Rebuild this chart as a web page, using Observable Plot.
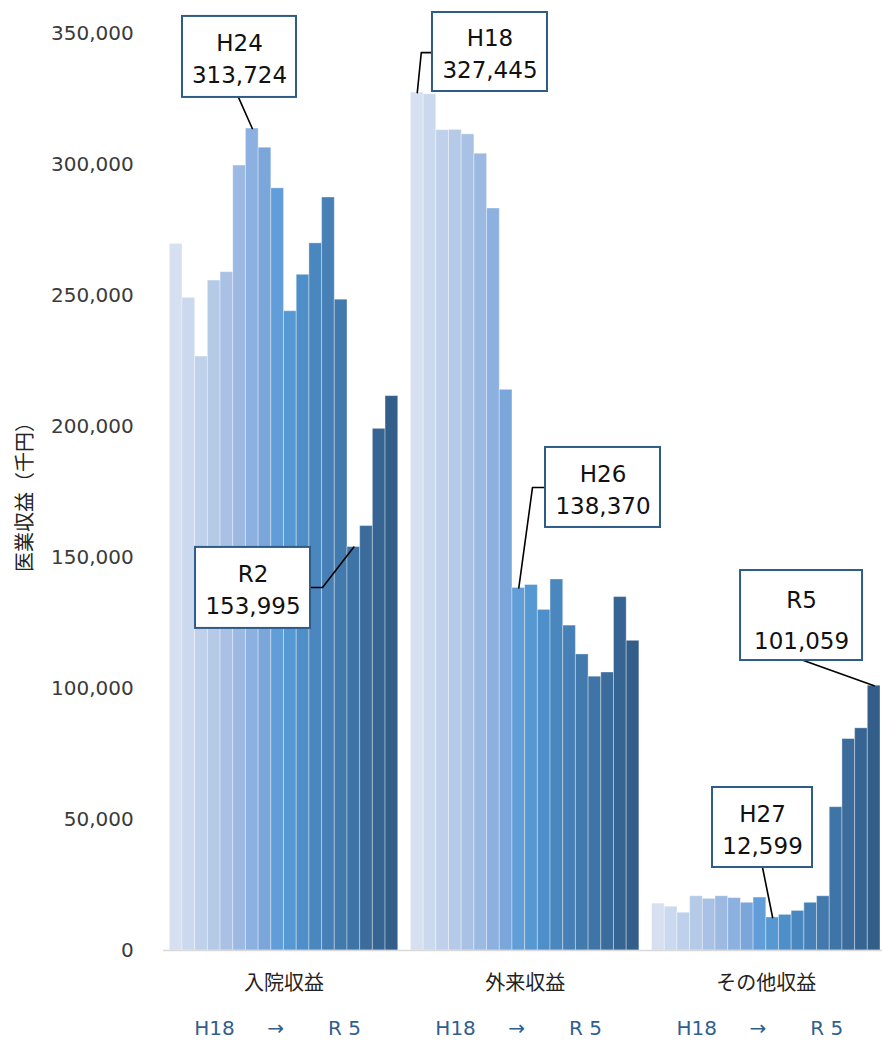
<!DOCTYPE html>
<html>
<head>
<meta charset="utf-8">
<script src="https://cdn.jsdelivr.net/npm/d3@7"></script>
<script src="https://cdn.jsdelivr.net/npm/@observablehq/plot@0.6"></script>
<style>
  html, body { margin: 0; padding: 0; background: #fff; }
  #chart svg { display: block; }
</style>
</head>
<body>
<div id="chart"></div>
<script>
// ---------- data ----------
const categories = ["入院収益", "外来収益", "その他収益"];
const years = ["H18","H19","H20","H21","H22","H23","H24","H25","H26","H27","H28","H29","H30","R1","R2","R3","R4","R5"];
const inpatient  = [269700, 249100, 226700, 255700, 258900, 299600, 313724, 306400, 290900, 244000, 257900, 269900, 287400, 248400, 153995, 162000, 199100, 211600];
const outpatient = [327445, 326800, 313100, 313200, 311500, 304100, 283200, 214000, 138370, 139500, 130000, 141600, 124000, 113000, 104500, 106100, 134900, 118200];
const other      = [17900, 16700, 14400, 20700, 19700, 20700, 20000, 18200, 20200, 12599, 13600, 15100, 18200, 20700, 54700, 80700, 84800, 101059];
const yTicks = [0, 50000, 100000, 150000, 200000, 250000, 300000, 350000];
const yTitle = "医業収益（千円）";
const periodLabels = ["H18", "→", "R 5"];
const callouts = [
  {cat: 0, year: "H24"},
  {cat: 1, year: "H18"},
  {cat: 0, year: "R2"},
  {cat: 1, year: "H26"},
  {cat: 2, year: "R5"},
  {cat: 2, year: "H27"}
];

// ---------- styling / layout ----------
const yearColors = ["#d6e0f0","#cbd9ee","#bfd1ea","#b4cae7","#a8c1e4","#9cb9e1","#8cb0df","#7aa6da","#619dd8",
                    "#5598d2","#4e8fca","#4a87bf","#4680b6","#427aae","#3f74a6","#3b6c9c","#376593","#335e8a"];
const GROUP = years.length + 1;            // slots per category (18 bars + 1 gap)
const X_DOMAIN = [0, GROUP * 2 + years.length];
const X_RANGE = [169.3, 880];
const Y_DOMAIN = [0, 350000];
const Y_RANGE = [950, 33];
const periodOffsets = [3.52, 8.33, 13.76];  // in bar slots inside a group
// callout layout: box center offset (px) from bar top, box size, leader path offsets, line spacing
const calloutLayout = [
  {dx: -12.8, dy: -71.6, w: 114, h: 81, path: [[-13.8, -31.1]], lh: 1.4},
  {dx: 72.7,  dy: -40.6, w: 115, h: 79, path: [[4, -40], [15, -40]], lh: 1.4},
  {dx: -100.8, dy: 40.9, w: 115, h: 81, path: [[-31.3, 40.4], [-43.3, 40.4]], lh: 1.4},
  {dx: 84.2, dy: -100.5, w: 115, h: 80, path: [[13.7, -100.5], [26.7, -100.5]], lh: 1.4},
  {dx: -72.6, dy: -70.2, w: 122, h: 90, path: [[-70.6, -25.2]], lh: 1.75},
  {dx: -10.1, dy: -90,   w: 100, h: 80, path: [[-10.1, -50]], lh: 1.4}
];

// ---------- table ----------
const series = [inpatient, outpatient, other];
const bars = [];
series.forEach((vals, c) => vals.forEach((v, i) => bars.push({
  cat: categories[c], c, i, year: years[i], value: v, color: yearColors[i]
})));

const sx = Plot.scale({x: {type: "linear", domain: X_DOMAIN, range: X_RANGE}});
const sy = Plot.scale({y: {type: "linear", domain: Y_DOMAIN, range: Y_RANGE}});

const boxes = [], leaders = [], labels = [];
callouts.forEach((co, k) => {
  const L = calloutLayout[k];
  const i = years.indexOf(co.year);
  const v = series[co.cat][i];
  const u = co.cat * GROUP + i + 0.5;
  const px = sx.apply(u), py = sy.apply(v);
  const cx = px + L.dx, cy = py + L.dy;
  boxes.push({
    x1: sx.invert(cx - L.w / 2), x2: sx.invert(cx + L.w / 2),
    y1: sy.invert(cy - L.h / 2), y2: sy.invert(cy + L.h / 2)
  });
  labels.push({x: sx.invert(cx), y: sy.invert(cy), text: co.year + "\n" + d3.format(",")(v), lh: L.lh});
  leaders.push({id: k, x: u, y: v});
  L.path.forEach(([ox, oy]) => leaders.push({id: k, x: sx.invert(px + ox), y: sy.invert(py + oy)}));
});

const font = "'DejaVu Sans', 'Noto Sans CJK JP', sans-serif";

const chart = Plot.plot({
  width: 882,
  height: 1041,
  marginLeft: X_RANGE[0],
  marginRight: 882 - X_RANGE[1],
  marginTop: Y_RANGE[1],
  marginBottom: 1041 - Y_RANGE[0],
  style: {fontFamily: font, fontSize: "20px", color: "#3a3a3a", background: "#fff"},
  x: {type: "linear", domain: X_DOMAIN, axis: null},
  y: {type: "linear", domain: Y_DOMAIN, ticks: yTicks, tickFormat: d3.format(","), tickSize: 0, tickPadding: 36, label: null},
  color: {type: "identity"},
  marks: [
    Plot.rectY(bars, {
      x1: d => d.c * GROUP + d.i, x2: d => d.c * GROUP + d.i + 1,
      y1: 0, y2: "value", fill: "color",
      stroke: "#ffffff", strokeOpacity: 0.35, strokeWidth: 1
    }),
    Plot.ruleY([0], {x1: -0.5, x2: X_DOMAIN[1] + 0.3, stroke: "#d9d9d9", strokeWidth: 1.5}),
    Plot.line(leaders, {x: "x", y: "y", z: "id", stroke: "#000", strokeWidth: 1.6}),
    Plot.rect(boxes, {x1: "x1", x2: "x2", y1: "y1", y2: "y2", fill: "#fff", stroke: "#2f5b87", strokeWidth: 2}),
    Plot.text(labels.filter(d => d.lh < 1.5), {x: "x", y: "y", text: "text", fontSize: 23, lineHeight: 1.4, fill: "#111"}),
    Plot.text(labels.filter(d => d.lh >= 1.5), {x: "x", y: "y", text: "text", fontSize: 23, lineHeight: 1.75, fill: "#111"}),
    Plot.text(categories, {x: (d, c) => c * GROUP + years.length / 2, y: () => 0, dy: 33, text: d => d, fontSize: 20, fill: "#222"}),
    Plot.text(categories.flatMap((d, c) => periodLabels.map((t, j) => ({c, t, j}))), {
      x: d => d.c * GROUP + periodOffsets[d.j], y: () => 0, dy: 78, text: "t", fontSize: 20, fill: "#2f5f8f"
    }),
    Plot.text([yTitle], {frameAnchor: "left", textAnchor: "middle", dx: -144, rotate: -90, text: d => d, fontSize: 20, fill: "#222"})
  ]
});
document.getElementById("chart").appendChild(chart);
</script>
</body>
</html>
